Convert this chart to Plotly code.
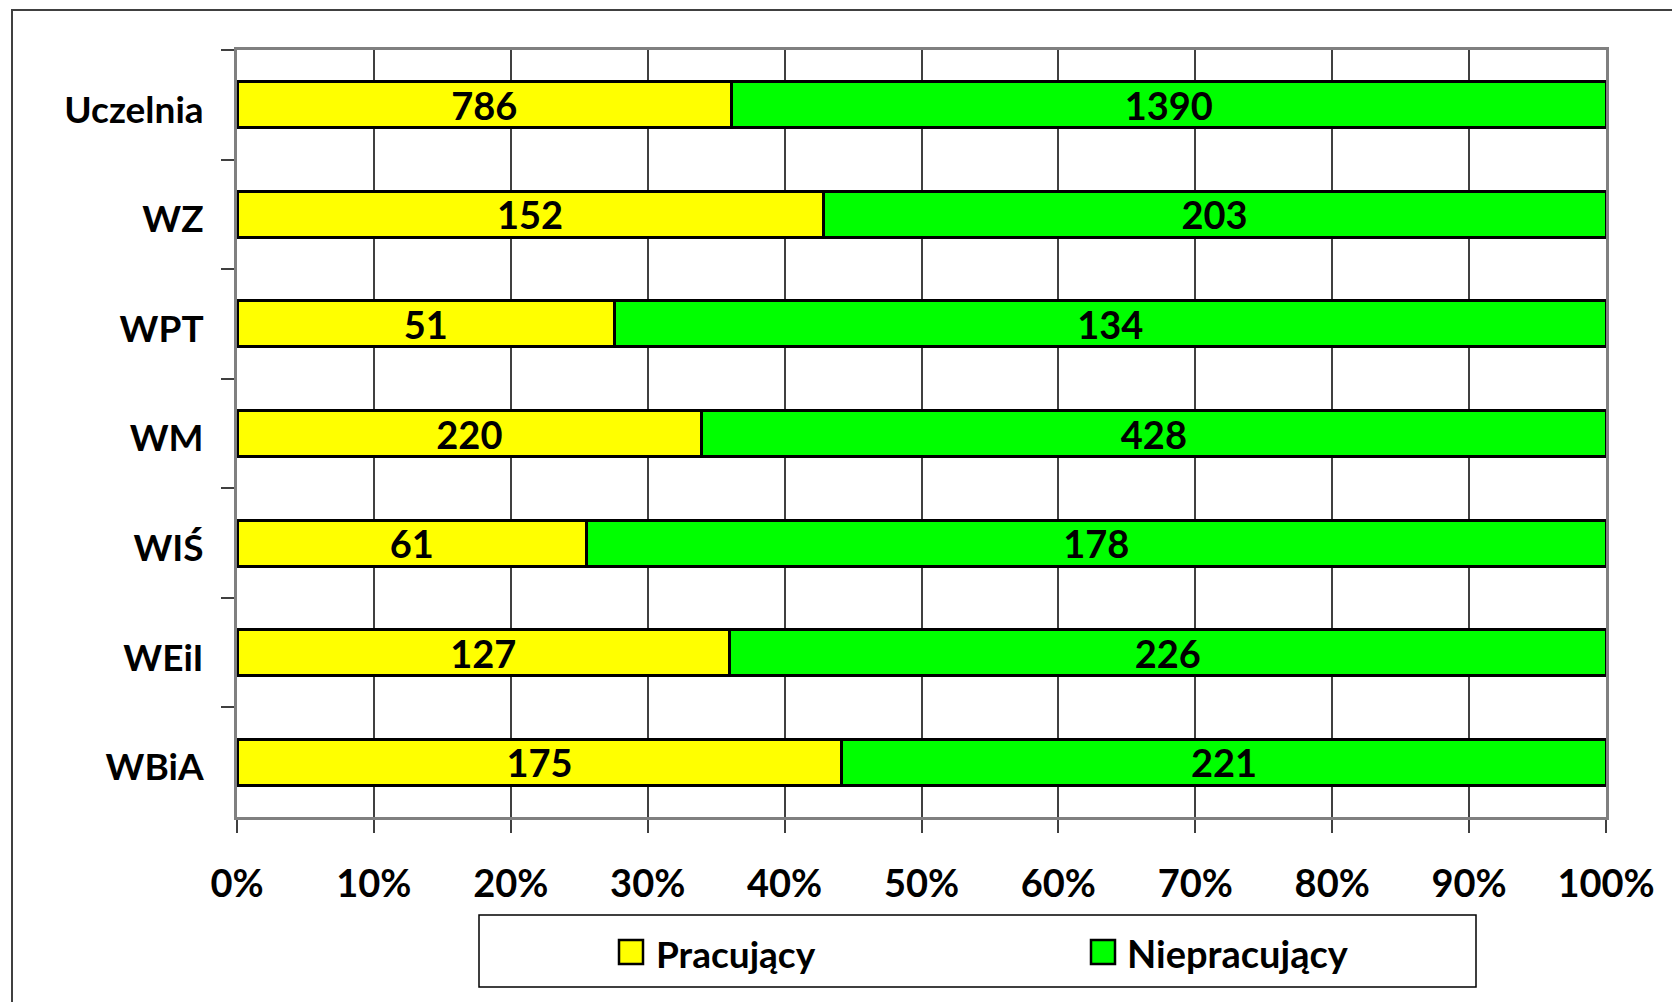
import plotly.graph_objects as go

categories = ["Uczelnia", "WZ", "WPT", "WM", "WIŚ", "WEiI", "WBiA"]
pracujacy = [786, 152, 51, 220, 61, 127, 175]
niepracujacy = [1390, 203, 134, 428, 178, 226, 221]
series_names = ["Pracujący", "Niepracujący"]
series_colors = ["#FFFF00", "#00FF00"]
x_ticks = [0, 10, 20, 30, 40, 50, 60, 70, 80, 90, 100]
x_tick_labels = [f"{v}%" for v in x_ticks]

# the page body adds an 8px offset; figure sized to fit the window
OFF = 8
W, H = 1680 - OFF, 1002 - OFF
L, R, T, B = 237 - OFF, 74, 50 - OFF, 185
PW, PH = W - L - R, H - T - B

def px_x(px):  # page pixel -> paper
    return (px - OFF - L) / PW

def px_y(py):
    return (H - B - (py - OFF)) / PH

FONT = "Lato"
fig = go.Figure()
for name, vals, col in zip(series_names, [pracujacy, niepracujacy], series_colors):
    fig.add_trace(go.Bar(
        y=categories, x=vals, name=name, orientation="h",
        marker=dict(color=col, line=dict(color="#000000", width=3)),
        text=[str(v) for v in vals], textposition="inside",
        insidetextanchor="middle", textangle=0,
        textfont=dict(family=FONT, size=38, color="#000000", weight="bold"),
        showlegend=False,
    ))

fig.update_layout(
    width=W, height=H,
    barmode="stack", barnorm="percent", bargap=0.58,
    margin=dict(l=L, r=R, t=T, b=B),
    plot_bgcolor="#FFFFFF", paper_bgcolor="#FFFFFF",
    uniformtext=dict(minsize=38, mode="show"),
    font=dict(family=FONT, color="#000000"),
)
fig.update_xaxes(
    range=[0, 100], tickvals=x_ticks, ticktext=x_tick_labels,
    showgrid=True, gridcolor="#404040", gridwidth=1.5,
    showline=True, linecolor="#808080", linewidth=3, mirror=True,
    ticks="outside", ticklen=13, tickcolor="#404040", tickwidth=1.5,
    tickfont=dict(family=FONT, size=38, color="#000000", weight="bold"),
    ticklabelstandoff=18,
    zeroline=False, fixedrange=True,
)
fig.update_yaxes(
    categoryorder="array", categoryarray=categories, autorange="reversed",
    showgrid=False, showline=True, linecolor="#808080", linewidth=3, mirror=True,
    ticks="outside", ticklen=13, tickcolor="#404040", tickwidth=1.5,
    tickson="boundaries",
    tickfont=dict(family=FONT, size=37, color="#000000", weight="bold"),
    ticklabelstandoff=23, ticklabelshift=-5,
)

shapes = []
# outer chart border
shapes.append(dict(type="rect", xref="paper", yref="paper",
                   x0=px_x(12), x1=px_x(1720), y0=px_y(1040), y1=px_y(10),
                   line=dict(color="#404040", width=2), fillcolor="rgba(0,0,0,0)", layer="below"))
# legend box
shapes.append(dict(type="rect", xref="paper", yref="paper",
                   x0=px_x(479), x1=px_x(1476), y0=px_y(987), y1=px_y(915),
                   line=dict(color="#000000", width=1.5), fillcolor="#FFFFFF"))
legend_sq_x = [619, 1091]
legend_txt_x = [654, 1125]
legend_font = [37, 38]
annotations = []
for i, (name, col) in enumerate(zip(series_names, series_colors)):
    shapes.append(dict(type="rect", xref="paper", yref="paper",
                       x0=px_x(legend_sq_x[i]), x1=px_x(legend_sq_x[i] + 24),
                       y0=px_y(964), y1=px_y(940),
                       line=dict(color="#000000", width=2.5), fillcolor=col))
    annotations.append(dict(xref="paper", yref="paper", x=px_x(legend_txt_x[i]), y=px_y(953),
                            text=name, showarrow=False, xanchor="left", yanchor="middle",
                            font=dict(family=FONT, size=legend_font[i], color="#000000", weight="bold")))
fig.update_layout(shapes=shapes, annotations=annotations)

fig.write_html("out.html")
